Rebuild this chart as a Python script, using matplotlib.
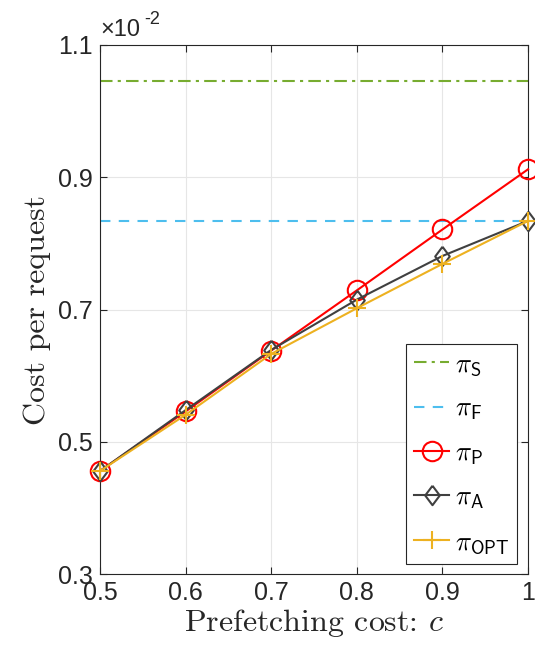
import matplotlib.pyplot as plt
from matplotlib.ticker import FormatStrFormatter, FuncFormatter

plt.rcParams['font.family'] = ['Liberation Sans', 'DejaVu Sans']
plt.rcParams['mathtext.fontset'] = 'cm'

# prefetching cost c, cost per request in units of 1e-2
c = [0.5, 0.6, 0.7, 0.8, 0.9, 1.0]
cost_S = 1.046
cost_F = 0.834
cost_P = [0.456, 0.546, 0.638, 0.729, 0.821, 0.912]
cost_A = [0.456, 0.548, 0.639, 0.715, 0.781, 0.834]
cost_OPT = [0.456, 0.541, 0.633, 0.702, 0.769, 0.834]

fig = plt.figure(figsize=(5.35, 6.51), dpi=100)
ax = fig.add_axes([0.187, 0.118, 0.800, 0.813])

diamond = [(0, 1), (0.75, 0), (0, -1), (-0.75, 0), (0, 1)]
ax.axhline(cost_S, color='#77AC30', ls=(0, (6, 2.5, 1.5, 2.5)), lw=1.5, label=r'$\pi_\mathsf{S}$')
ax.axhline(cost_F, color='#4DBEEE', ls=(0, (5, 4)), lw=1.5, label=r'$\pi_\mathsf{F}$')
ax.plot(c, cost_P, color='#FF0000', lw=1.5, marker='o', ms=14, mfc='none', mew=1.5,
        label=r'$\pi_\mathsf{P}$', clip_on=False, zorder=3)
ax.plot(c, cost_A, color='#404040', lw=1.5, marker=diamond, ms=14, mfc='none', mew=1.5,
        label=r'$\pi_\mathsf{A}$', clip_on=False, zorder=4)
ax.plot(c, cost_OPT, color='#EDB120', lw=1.5, marker='+', ms=13, mew=1.5,
        label=r'$\pi_\mathsf{OPT}$', clip_on=False, zorder=5)

ax.set_xlim(0.5, 1.0)
ax.set_ylim(0.3, 1.1)
ax.set_xticks([0.5, 0.6, 0.7, 0.8, 0.9, 1.0])
ax.set_yticks([0.3, 0.5, 0.7, 0.9, 1.1])
ax.xaxis.set_major_formatter(FuncFormatter(lambda v, p: '%g' % v))
ax.yaxis.set_major_formatter(FormatStrFormatter('%.1f'))
ax.tick_params(direction='in', length=5, labelsize=18, colors='#262626',
               top=True, right=True, pad=5)
ax.grid(True, color='#e6e6e6', lw=0.8)
for s in ax.spines.values():
    s.set_color('#262626')
    s.set_linewidth(0.8)

ax.set_xlabel(r'Prefetching cost: $c$', family='cmr10', fontsize=23, color='#262626', labelpad=1)
ax.set_ylabel('Cost per request', family='cmr10', fontsize=23, color='#262626', labelpad=5)
ax.annotate('×10', xy=(0, 1), xycoords='axes fraction', xytext=(0, 3),
            textcoords='offset points', fontsize=17, color='#262626', va='bottom', ha='left')
ax.annotate('-2', xy=(0, 1), xycoords='axes fraction', xytext=(31.5, 12),
            textcoords='offset points', fontsize=13, color='#262626', va='bottom', ha='left')

leg = ax.legend(loc='lower right', fontsize=19, fancybox=False, framealpha=1,
                edgecolor='#262626', handlelength=1.3, labelspacing=0.72,
                borderpad=0.3, handletextpad=0.25, borderaxespad=0.4)
leg.get_frame().set_linewidth(0.8)

fig.savefig('out.png', dpi=100)
